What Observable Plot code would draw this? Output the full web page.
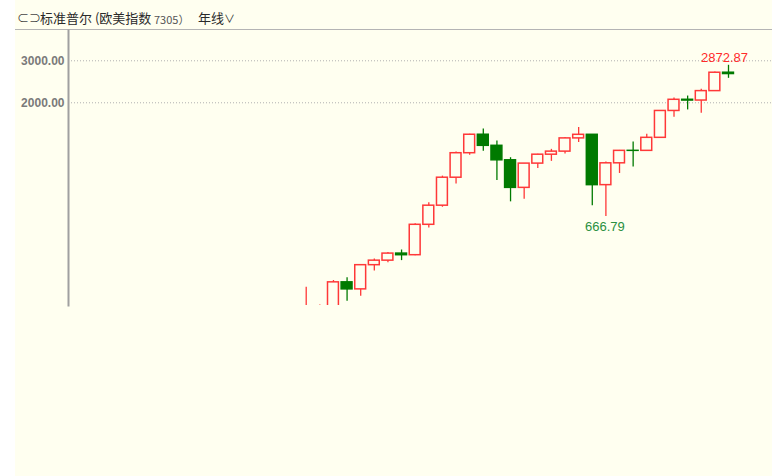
<!DOCTYPE html>
<html>
<head>
<meta charset="utf-8">
<script src="https://cdn.jsdelivr.net/npm/d3@7"></script>
<script src="https://cdn.jsdelivr.net/npm/@observablehq/plot@0.6"></script>
<style>
  html, body { margin: 0; padding: 0; background: #ffffff; width: 782px; height: 476px; overflow: hidden; }
  #panel { position: absolute; left: 15px; top: 0; width: 757px; height: 476px; background: #fffff0; }
  #header { position: absolute; left: 0; top: 0; width: 757px; height: 29px; border-bottom: 1px solid #b4b4b4;
            font-family: "Noto Sans CJK SC", "Noto Sans", sans-serif; font-size: 13px; color: #2a2a2a; }
  #header span { position: absolute; top: 10px; line-height: 16px; white-space: nowrap; }
  #chart { position: absolute; left: 0; top: 30px; }
</style>
</head>
<body>
<div id="panel">
  <div id="header">
    <span style="left:2px;font-size:12px;color:#444;">⊂⊃</span>
    <span style="left:25px;">标准普尔 (欧美指数</span>
    <span style="left:139px;font-size:11px;color:#555;top:11px;">7305）</span>
    <span style="left:183px;">年线<span style="position:relative;top:0;font-size:11px;">∨</span></span>
  </div>
  <div id="chart"></div>
</div>
<script>
const years = [1987,1988,1989,1990,1991,1992,1993,1994,1995,1996,1997,1998,1999,2000,2001,2002,2003,2004,2005,2006,2007,2008,2009,2010,2011,2012,2013,2014,2015,2016,2017,2018];
const open  = [242.17,247.08,277.72,353.40,330.22,417.09,435.71,466.45,459.27,615.93,740.74,970.43,1229.23,1469.25,1320.28,1148.08,879.82,1111.92,1211.92,1248.29,1418.30,1468.36,903.25,1115.10,1257.64,1257.60,1426.19,1848.36,2058.90,2043.94,2238.83,2673.61];
const high  = [336.77,283.66,359.80,369.78,418.32,442.65,471.29,482.85,622.88,762.12,985.49,1244.93,1475.00,1553.11,1383.37,1176.97,1112.56,1217.33,1275.80,1431.81,1576.09,1471.77,1130.38,1262.60,1370.58,1474.51,1849.44,2093.55,2134.72,2277.53,2694.97,2872.87];
const low   = [216.46,242.63,275.31,294.51,309.35,394.50,426.88,435.86,457.20,597.29,729.55,912.83,1205.46,1254.07,944.75,768.63,788.90,1060.72,1136.15,1219.29,1363.98,741.02,666.79,1010.91,1074.77,1258.86,1426.19,1737.92,1867.01,1810.10,2238.83,2532.69];
const close = [247.08,277.72,353.40,330.22,417.09,435.71,466.45,459.27,615.93,740.74,970.43,1229.23,1469.25,1320.28,1148.08,879.82,1111.92,1211.92,1248.29,1418.30,1468.36,903.25,1115.10,1257.64,1257.60,1426.19,1848.36,2058.90,2043.94,2238.83,2673.61,2640.00];
const yTicks = [2000, 3000];
const labelHigh = {year: 2018, value: 2872.87, text: "2872.87"};
const labelLow = {year: 2009, value: 666.79, text: "666.79"};

const data = years.map((y, i) => ({year: y, open: open[i], high: high[i], low: low[i], close: close[i], up: close[i] >= open[i]}));

const RED = "#ff3838", GREEN = "#007a00", BG = "#fffff0";

const chart = Plot.plot({
  width: 757,
  height: 275,
  marginLeft: 53,
  marginRight: 0,
  marginTop: 0,
  marginBottom: 0,
  style: {background: "transparent", overflow: "visible"},
  x: {type: "linear", domain: [1969.55, 2021.23], axis: null},
  y: {type: "log", domain: [282.6, 4019], axis: null},
  marks: [
    Plot.ruleY(yTicks, {stroke: "#b0b0b0", strokeDasharray: "1,2", strokeWidth: 1}),
    Plot.axisY({ticks: yTicks, tickFormat: d3.format(".2f"), tickSize: 0, tickPadding: 4,
      fontSize: 12, fontWeight: "bold", fill: "#7a7a7a", fontFamily: "Liberation Sans, Arial, sans-serif", anchor: "left"}),
    Plot.ruleX(data, {x: "year", y1: "low", y2: "high", stroke: d => d.up ? RED : GREEN, strokeWidth: 1.3, clip: true}),
    Plot.rect(data, {x1: d => d.year - 0.4, x2: d => d.year + 0.4, y1: "open", y2: "close",
      fill: d => d.up ? BG : GREEN, stroke: d => d.up ? RED : GREEN, strokeWidth: 1.5, clip: true}),
    Plot.frame({anchor: "left", stroke: "#a0a0a0", strokeWidth: 2}),
    Plot.text([labelHigh], {x: "year", y: "value", text: "text", dx: -4, dy: -7, fill: "#ff2a2a",
      fontSize: 13, fontFamily: "Liberation Sans, Arial, sans-serif"}),
    Plot.text([labelLow], {x: "year", y: "value", text: "text", dx: -1, dy: 10, fill: "#2a9040",
      fontSize: 13, fontFamily: "Liberation Sans, Arial, sans-serif"})
  ]
});
document.getElementById("chart").appendChild(chart);
</script>
</body>
</html>
